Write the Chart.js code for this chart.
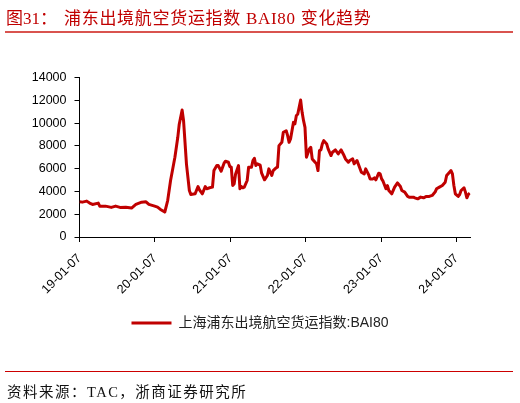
<!DOCTYPE html>
<html>
<head>
<meta charset="utf-8">
<script src="https://cdn.jsdelivr.net/npm/chart.js@4/dist/chart.umd.min.js"></script>
<style>
  html, body { margin: 0; padding: 0; background: #fff; }
  #wrap { position: relative; width: 520px; height: 403px; overflow: hidden; }
  #chartBox { position: absolute; left: 0; top: 0; width: 520px; height: 403px; }
  .ttl { position: absolute; top: 4px; font-size: 17px; color: #c00000; white-space: nowrap;
         font-family: 'Liberation Serif', 'Noto Sans CJK SC', serif; }
  .rule { position: absolute; left: 5px; width: 508px; }
  #src { position: absolute; left: 7px; top: 380px; font-size: 14.5px; color: #111; white-space: nowrap;
         letter-spacing: 1.5px; font-family: 'Liberation Serif', 'Noto Sans CJK SC', serif; }
</style>
</head>
<body>
<div id="wrap">
  <div id="chartBox"><canvas id="myChart"></canvas></div>
  <div class="ttl" style="left:6px">图31：</div>
  <div class="ttl" style="left:64px;letter-spacing:0.7px">浦东出境航空货运指数 BAI80 变化趋势</div>
  <div class="rule" style="top:31px;height:2px;background:#d9534f"></div>
  <div class="rule" style="top:371px;height:1px;background:#cc0000"></div>
  <div id="src">资料来源：TAC，浙商证券研究所</div>
</div>
<script>
// 周序号（自 2019-01-07 起）和指数值
const weeks = [0, 2, 5, 7, 9, 13, 14, 18, 22, 25, 28, 32, 36, 39, 43, 46, 48, 52, 54, 56,
    59, 61, 63, 66, 68, 69, 71, 72, 74, 76, 77, 80, 82, 83, 85, 87, 88, 90, 92, 93,
    95, 96, 98, 100, 101, 103, 104, 105, 106, 107, 108, 110, 111, 112, 113, 114, 116, 117, 119, 120,
    121, 122, 123, 125, 126, 128, 130, 131, 133, 134, 136, 137, 138, 140, 141, 143, 144, 145, 146, 148,
    149, 150, 151, 153, 154, 155, 156, 157, 159, 160, 161, 163, 164, 165, 166, 167, 168, 169, 171, 172,
    174, 175, 177, 179, 181, 183, 184, 186, 187, 189, 190, 192, 193, 195, 197, 198, 200, 201, 203, 204,
    205, 207, 208, 209, 210, 212, 213, 214, 216, 218, 220, 222, 223, 225, 227, 228, 231, 232, 234, 236,
    238, 240, 242, 244, 246, 247, 249, 251, 253, 254, 256, 257, 258, 259, 260, 262, 263, 264, 266, 267,
    268, 269, 270];
const bai80 = [3100, 3060, 3150, 2975, 2860, 2975, 2710, 2710, 2600, 2710, 2600, 2620, 2540, 2860, 3060, 3090, 2860, 2710, 2625, 2420,
    2190, 3200, 4960, 7000, 8750, 9900, 11140, 10200, 6400, 4080, 3730, 3790, 4430, 4140, 3790, 4430, 4230, 4320, 4375, 5830,
    6270, 6270, 5775, 6475, 6650, 6560, 6180, 6125, 4520, 4670, 5540, 6270, 4230, 4430, 4320, 4375, 4960, 6125, 6125, 6700,
    6900, 6270, 6420, 6300, 5600, 5020, 5400, 5980, 5400, 5830, 6070, 6125, 8020, 8310, 9190, 9330, 8900, 8310, 8600, 10060,
    9920, 10650, 10790, 12020, 10940, 10210, 9625, 7000, 7730, 7875, 6855, 6560, 6420, 5830, 7580, 7640, 8170, 8460, 8170, 7730,
    7150, 7440, 7640, 7290, 7640, 7150, 6855, 6560, 6710, 6855, 6420, 6710, 6360, 5690, 5540, 5980, 5480, 5100, 5100, 5190,
    5020, 5600, 5540, 5100, 4900, 4230, 4520, 4080, 3790, 4375, 4750, 4430, 4080, 3940, 3560, 3500, 3500, 3440, 3350, 3500,
    3440, 3560, 3560, 3650, 3940, 4230, 4375, 4520, 4810, 5400, 5690, 5830, 5540, 4520, 3790, 3560, 3730, 4080, 4320, 3940,
    3440, 3730, 3850];

const tickLabels = ['19-01-07', '20-01-07', '21-01-07', '22-01-07', '23-01-07', '24-01-07'];
const tickDates = ['2019-01-07', '2020-01-07', '2021-01-07', '2022-01-07', '2023-01-07', '2024-01-07'];
const yTicks = [0, 2000, 4000, 6000, 8000, 10000, 12000, 14000];

const startMs = Date.parse(tickDates[0]);
const tickWeeks = tickDates.map(d => (Date.parse(d) - startMs) / (7 * 86400000));

const red = '#c00000';
const ctx = document.getElementById('myChart');

new Chart(ctx, {
    type: 'line',
    data: {
        datasets: [{
            label: '上海浦东出境航空货运指数:BAI80',
            data: weeks.map((w, i) => ({ x: w, y: bai80[i] })),
            borderColor: red,
            backgroundColor: red,
            borderWidth: 3,
            pointRadius: 0,
            tension: 0,
            borderJoinStyle: 'round'
        }]
    },
    options: {
        responsive: true,
        maintainAspectRatio: false,
        animation: false,
        layout: { padding: { left: 0, right: 0, top: 77.5, bottom: 63 } },
        plugins: {
            tooltip: { enabled: false },
            legend: {
                position: 'bottom',
                labels: {
                    boxWidth: 40,
                    boxHeight: 3,
                    padding: 10,
                    color: '#222',
                    font: { size: 14, family: "'Liberation Sans', 'Noto Sans CJK SC'" },
                    generateLabels: (chart) => Chart.defaults.plugins.legend.labels.generateLabels(chart)
                        .map(item => Object.assign(item, { lineWidth: 0 }))
                }
            }
        },
        scales: {
            x: {
                type: 'linear',
                min: 0,
                max: 270.5,
                border: { display: true, color: '#000', width: 1 },
                grid: { drawOnChartArea: false, drawTicks: true, tickLength: 5, color: '#000' },
                afterBuildTicks: (s) => { s.ticks = tickWeeks.map(v => ({ value: v })); },
                afterFit: (s) => {
                    const lg = s.chart.legend ? s.chart.legend.height : 0;
                    s.height = 403 - 63 - lg - 237;
                },
                ticks: {
                    autoSkip: false,
                    minRotation: 45,
                    maxRotation: 45,
                    padding: 9,
                    color: '#000',
                    font: { size: 12.5, family: "'Liberation Sans'" },
                    callback: (v, i) => tickLabels[i]
                }
            },
            y: {
                min: 0,
                max: 14000,
                border: { display: true, color: '#000', width: 1 },
                grid: { drawOnChartArea: false, drawTicks: true, tickLength: 5, color: '#000' },
                afterBuildTicks: (s) => { s.ticks = yTicks.map(v => ({ value: v })); },
                afterFit: (s) => { s.width = 79.5; },
                ticks: {
                    padding: 8,
                    color: '#000',
                    font: { size: 12.5, family: "'Liberation Sans'" },
                    callback: (v) => String(v)
                }
            },
            // 右侧留白
            yRight: {
                position: 'right',
                display: true,
                grid: { display: false },
                border: { display: false },
                ticks: { display: false },
                afterFit: (s) => { s.width = 49.5; }
            }
        }
    }
});
</script>
</body>
</html>
